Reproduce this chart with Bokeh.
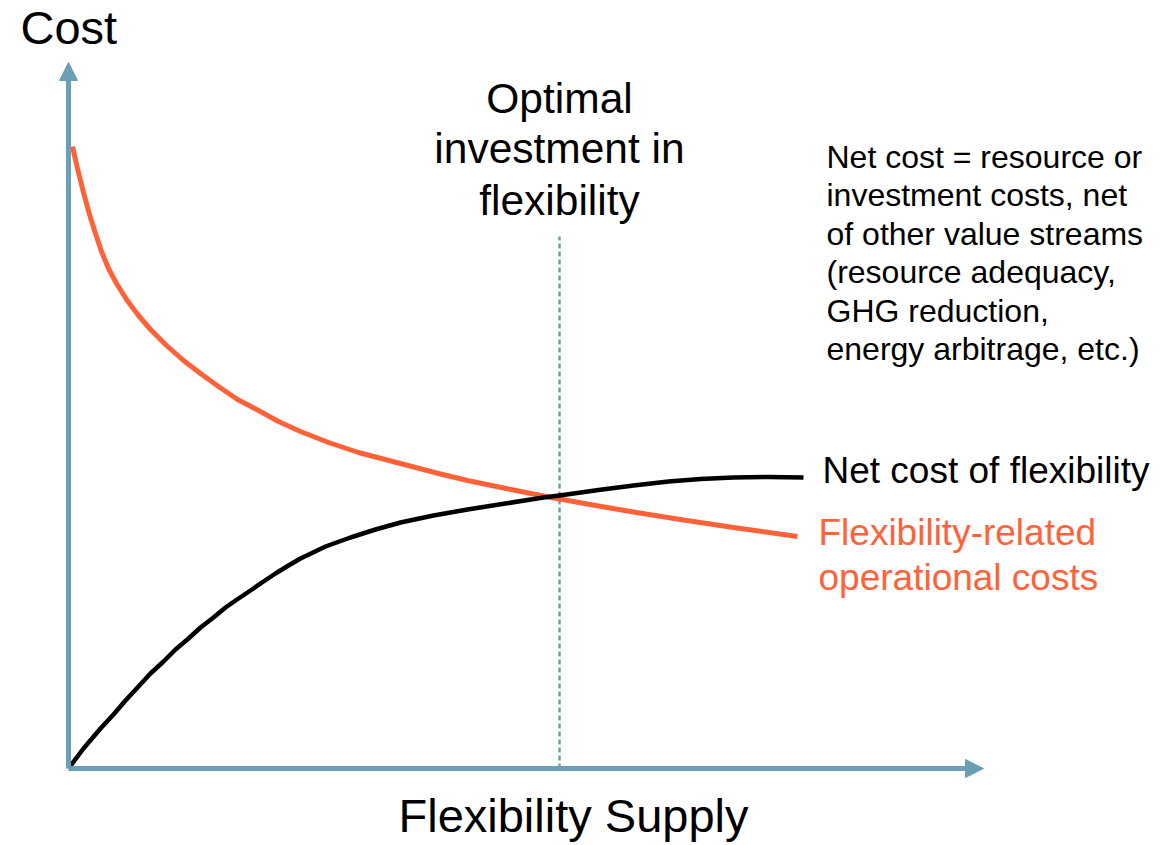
from bokeh.plotting import figure
from bokeh.models import Range1d, Arrow, NormalHead, ColumnDataSource
from bokeh.core.properties import value
from bokeh.embed import file_html
from bokeh.resources import INLINE

# ---- data (conceptual units) ----
ops_x = [0.04, 0.09, 0.15, 0.21, 0.27, 0.33, 0.40, 0.48, 0.58, 0.70, 0.82, 0.98, 1.15, 1.32,
         1.50, 1.69, 1.90, 2.10, 2.32, 2.60, 2.90, 3.32, 3.70, 3.99, 4.40, 4.75, 4.91, 5.30,
         5.65, 6.15, 6.65, 7.29]
ops_y = [6.22, 6.00, 5.76, 5.54, 5.35, 5.17, 5.00, 4.85, 4.69, 4.53, 4.39, 4.23, 4.08, 3.95,
         3.82, 3.69, 3.58, 3.47, 3.37, 3.26, 3.16, 3.05, 2.95, 2.88, 2.795, 2.725, 2.695, 2.625,
         2.565, 2.485, 2.41, 2.32]

net_x = [0.00, 0.15, 0.32, 0.45, 0.57, 0.70, 0.82, 0.95, 1.07, 1.20, 1.32, 1.45, 1.57, 1.70,
         1.82, 1.95, 2.07, 2.20, 2.32, 2.57, 2.82, 3.07, 3.32, 3.65, 3.99, 4.37, 4.75, 4.91,
         5.30, 5.65, 6.00, 6.32, 6.65, 7.00, 7.35]
net_y = [0.00, 0.20, 0.40, 0.54, 0.68, 0.82, 0.95, 1.07, 1.19, 1.30, 1.41, 1.51, 1.61, 1.70,
         1.78, 1.87, 1.95, 2.03, 2.10, 2.22, 2.31, 2.39, 2.46, 2.53, 2.59, 2.65, 2.71, 2.73,
         2.785, 2.83, 2.87, 2.895, 2.91, 2.915, 2.91]

optimal_x = 4.91
x_axis_end = 9.15
y_axis_end = 7.06
optimal_line_top = 5.32

y_title = "Cost"
x_title = "Flexibility Supply"
optimal_lines = ["Optimal", "investment in", "flexibility"]
note_lines = ["Net cost = resource or", "investment costs, net", "of other value streams",
              "(resource adequacy,", "GHG reduction,", "energy arbitrage, etc.)"]
net_label = ["Net cost of flexibility"]
ops_label = ["Flexibility-related", "operational costs"]

# ---- styles ----
AXIS_C = "#6a9fb5"
RED = "#ff6239"
FONT = value("Liberation Sans")

p = figure(width=1160, height=845, x_range=Range1d(-0.68, 10.92), y_range=Range1d(-0.77, 7.68),
           toolbar_location=None, output_backend="svg", x_axis_type=None, y_axis_type=None,
           min_border=0)
p.grid.visible = False
p.outline_line_color = None
p.background_fill_color = "white"
p.border_fill_color = "white"

# axes with arrows
p.add_layout(Arrow(end=NormalHead(size=18, fill_color=AXIS_C, line_color=AXIS_C, line_width=1),
                   x_start=0, y_start=0, x_end=0, y_end=y_axis_end,
                   line_color=AXIS_C, line_width=5))
p.add_layout(Arrow(end=NormalHead(size=18, fill_color=AXIS_C, line_color=AXIS_C, line_width=1),
                   x_start=0, y_start=0, x_end=x_axis_end, y_end=0,
                   line_color=AXIS_C, line_width=5))

# dashed optimal line
p.line([optimal_x, optimal_x], [0, optimal_line_top], line_color=AXIS_C, line_width=2.5,
       line_dash="5 3")

# curves
p.line(ops_x, ops_y, line_color=RED, line_width=5, line_join="round")
p.line(net_x, net_y, line_color="black", line_width=4.5, line_join="round")

# texts
def txt(xs, ys, texts, size, color="black", align="left"):
    src = ColumnDataSource(dict(x=xs, y=ys, t=texts))
    p.text(x="x", y="y", text="t", source=src, text_font=FONT, text_font_size=size,
           text_color=color, text_align=align, text_baseline="alphabetic")

txt([-0.48], [7.41], [y_title], "47px")
txt([5.05], [-0.47], [x_title], "47px", align="center")
txt([4.91] * 3, [6.70, 6.20, 5.68], optimal_lines, "42.5px", align="center")
txt([7.58] * 6, [6.12 - 0.385 * i for i in range(6)], note_lines, "32px")
txt([7.54], [2.98], net_label, "37px")
txt([7.50, 7.50], [2.36, 1.91], ops_label, "37px", color=RED)

open("out.html", "w").write(file_html(p, INLINE))
